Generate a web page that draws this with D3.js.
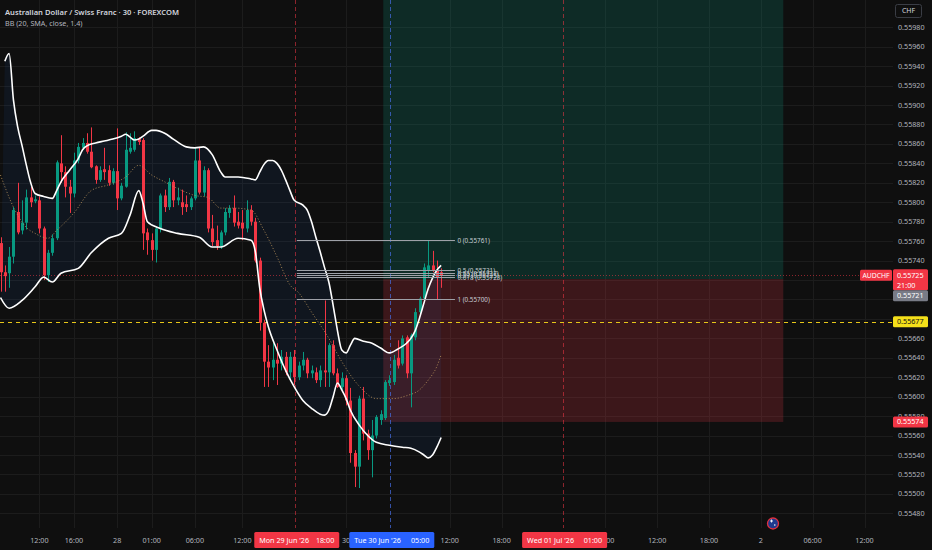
<!DOCTYPE html>
<html><head><meta charset="utf-8">
<script src="https://cdn.jsdelivr.net/npm/d3@7/dist/d3.min.js"></script>
<style>html,body{margin:0;padding:0;background:#0f0f0f;}svg{display:block;font-family:"Noto Sans",Roboto,sans-serif;}</style>
</head><body><svg id="c" width="932" height="550"></svg>
<script>
// ---------- DATA ----------
const opens = [.55758,.55728,.55727,.55744,.55790,.55771,.55779,.55805,.55801,.55802,
.55773,.55725,.55748,.55763,.55840,.55831,.55816,.55809,.55843,.55856,
.55861,.55852,.55837,.55823,.55834,.55833,.55820,.55832,.55804,.55816,
.55852,.55854,.55865,.55864,.55769,.55761,.55751,.55773,.55807,.55795,
.55821,.55802,.55800,.55798,.55795,.55804,.55843,.55810,.55833,.55773,
.55761,.55755,.55769,.55789,.55794,.55780,.55779,.55773,.55792,.55780,
.55740,.55676,.55636,.55630,.55638,.55634,.55641,.55625,.55641,.55620,
.55632,.55638,.55624,.55625,.55617,.55627,.55625,.55653,.55624,.55610,
.55619,.55596,.55542,.55528,.55598,.55562,.55545,.55560,.55576,.55578,
.55614,.55615,.55640,.55634,.55661,.55624,.55661,.55687,.55701,.55730,
.55735,.55730,.55728];
const highs = [.55764,.55735,.55754,.55795,.55820,.55802,.55813,.55816,.55807,.55806,
.55775,.55751,.55767,.55843,.55869,.55837,.55823,.55851,.55861,.55866,
.55871,.55877,.55838,.55837,.55856,.55838,.55835,.55876,.55820,.55872,
.55871,.55873,.55867,.55866,.55773,.55768,.55775,.55809,.55813,.55825,
.55823,.55815,.55813,.55807,.55806,.55856,.55857,.55837,.55835,.55787,
.55776,.55771,.55794,.55797,.55807,.55790,.55792,.55802,.55797,.55784,
.55743,.55679,.55653,.55655,.55655,.55648,.55646,.55646,.55648,.55636,
.55646,.55640,.55632,.55630,.55632,.55699,.55655,.55658,.55629,.55625,
.55622,.55609,.55545,.55601,.55610,.55566,.55576,.55581,.55586,.55617,
.55622,.55643,.55658,.55663,.55663,.55665,.55691,.55703,.55737,.55761,
.55750,.55740,.55732];
const lows = [.55708,.55708,.55712,.55737,.55767,.55767,.55772,.55795,.55799,.55768,
.55720,.55718,.55745,.55761,.55820,.55805,.55789,.55805,.55840,.55854,
.55850,.55835,.55819,.55821,.55823,.55817,.55818,.55792,.55802,.55815,
.55850,.55852,.55859,.55751,.55746,.55740,.55738,.55769,.55790,.55792,
.55795,.55797,.55787,.55790,.55792,.55802,.55808,.55806,.55769,.55755,
.55751,.55752,.55766,.55784,.55775,.55773,.55761,.55769,.55776,.55738,
.55668,.55610,.55610,.55617,.55612,.55627,.55622,.55617,.55612,.55617,
.55627,.55619,.55619,.55614,.55610,.55610,.55610,.55622,.55609,.55607,
.55591,.55532,.55507,.55506,.55555,.55535,.55517,.55557,.55571,.55576,
.55611,.55612,.55629,.55632,.55619,.55589,.55658,.55684,.55699,.55722,
.55728,.55700,.55712];
const closes = [.55728,.55724,.55744,.55792,.55769,.55779,.55805,.55800,.55803,.55773,
.55725,.55748,.55763,.55841,.55831,.55816,.55809,.55843,.55857,.55861,
.55852,.55836,.55823,.55833,.55831,.55820,.55832,.55804,.55817,.55854,
.55856,.55866,.55862,.55768,.55761,.55751,.55773,.55807,.55795,.55821,
.55802,.55805,.55795,.55795,.55804,.55843,.55810,.55833,.55773,.55759,
.55755,.55769,.55790,.55794,.55779,.55776,.55773,.55792,.55780,.55740,
.55676,.55636,.55630,.55638,.55634,.55641,.55625,.55641,.55620,.55632,
.55638,.55624,.55627,.55617,.55627,.55625,.55653,.55624,.55610,.55619,
.55596,.55542,.55528,.55598,.55562,.55545,.55560,.55579,.55582,.55615,
.55617,.55638,.55632,.55660,.55624,.55663,.55687,.55701,.55733,.55735,
.55730,.55723,.55725];

// Bollinger Bands : [bar index, price]
const bbUpper = [[1,.55945],[2,.55953],[3,.55905],[4,.55877],[5,.55858],[6,.55838],[7,.55820],[8,.55809],[10,.55806],[12,.55804],[13,.55812],[14,.55821],[16,.55833],[18,.55845],[19,.55854],[20,.55858],[22,.55861],[24,.55863],[26,.55865],[28,.55868],[29,.55870],[30,.55867],[31,.55864],[32,.55865],[33,.55868],[35,.55874],[36,.55874],[38,.55871],[40,.55865],[43,.55857],[45,.55856],[47,.55857],[49,.55849],[51,.55831],[52,.55826],[55,.55826],[58,.55824],[59,.55823],[60,.55831],[61,.55839],[62,.55843],[63,.55843],[64,.55840],[65,.55833],[66,.55823],[67,.55812],[68,.55802],[70,.55797],[71,.55792],[72,.55780],[73,.55764],[74,.55749],[75,.55733],[76,.55718],[77,.55694],[78,.55668],[79,.55648],[80,.55645],[81,.55653],[82,.55660],[84,.55657],[86,.55655],[88,.55650],[90,.55645],[92,.55649],[94,.55655],[95,.55660],[96,.55668],[97,.55681],[98,.55696],[99,.55711],[100,.55722],[101,.55730],[102,.55735]];
const bbBasis = [[0,.55828],[3,.55795],[6,.55774],[8,.55768],[11,.55763],[13,.55771],[17,.55789],[21,.55812],[25,.55818],[29,.55826],[32,.55838],[35,.55828],[38,.55821],[42,.55812],[45,.55807],[48,.55805],[51,.55794],[54,.55794],[58,.55792],[61,.55771],[64,.55744],[67,.55715],[69,.55707],[72,.55687],[76,.55660],[79,.55636],[83,.55611],[87,.55598],[91,.55598],[94,.55601],[97,.55607],[99,.55617],[101,.55631],[102,.55643]];
const bbLower = [[0,.55702],[2,.55691],[5,.55699],[8,.55713],[10,.55723],[12,.55718],[14,.55727],[18,.55732],[21,.55748],[25,.55763],[28,.55768],[30,.55787],[32,.55812],[33,.55799],[34,.55780],[37,.55773],[41,.55768],[46,.55764],[49,.55754],[51,.55754],[55,.55763],[58,.55761],[59,.55749],[60,.55712],[61,.55689],[62,.55672],[64,.55648],[66,.55627],[68,.55610],[70,.55596],[72,.55588],[74,.55582],[75,.55581],[76,.55586],[77,.55600],[78,.55614],[79,.55607],[80,.55598],[81,.55586],[83,.55571],[85,.55560],[87,.55553],[90,.55550],[93,.55548],[95,.55547],[97,.55543],[98,.55540],[99,.55537],[100,.55540],[101,.55548],[102,.55558]];

// time axis
const tickIdx  = [9,17,27,35,45,56,80,104,116,140,152,164,176,188,200];
const tickText = ["12:00","16:00","28","01:00","06:00","12:00","30","12:00","18:00","06:00","12:00","18:00","2","06:00","12:00"];
const markerIdx  = [68, 90, 130];
const markerDate = ["Mon 29 Jun '26","Tue 30 Jun '26","Wed 01 Jul '26"];
const markerTime = ["18:00","05:00","01:00"];
const markerKind = ["red","blue","red"];

// price axis
const priceTicks = d3.range(0, 26).map(k => +(0.55480 + k*0.0002).toFixed(5));
const lastPrice = 0.55725, countdown = "21:00", symbol = "AUDCHF";
const alertPrice = 0.55677;

// long/short position tool
const posStart = 88.6, posEnd = 181.2;
const entryPrice = 0.55721, stopPrice = 0.55574, targetPrice = 0.56040;

// fib retracement
const fibStart = 68.6, fibEnd = 105.2;
const fibHigh = 0.55761, fibLow = 0.55700;
const fibLevels = [0, 0.5, 0.55, 0.59, 0.618, 1];

// ---------- DRAW ----------
const W = 932, H = 550, plotR = 893, plotB = 528;
const RED = "#f23645", GREEN = "#089981";
const svg = d3.select("#c");
const x = d3.scaleLinear().domain([0, 200]).range([0.5, 864.5]);
const y = d3.scaleLinear().domain([0.55980, 0.55480]).range([27.3, 513.3]);

svg.append("rect").attr("width", W).attr("height", H).attr("fill", "#0f0f0f");
const plot = svg.append("g");
plot.append("clipPath").attr("id","pc").append("rect").attr("width", plotR).attr("height", plotB);
const g = plot.append("g").attr("clip-path","url(#pc)");

// grid
g.selectAll(".hg").data(priceTicks).join("line")
  .attr("x1",0).attr("x2",plotR).attr("y1",d=>Math.round(y(d))+0.5).attr("y2",d=>Math.round(y(d))+0.5)
  .attr("stroke","#1c1c1c").attr("stroke-width",1);
g.selectAll(".vg").data(tickIdx).join("line")
  .attr("y1",0).attr("y2",plotB).attr("x1",d=>Math.round(x(d))+0.5).attr("x2",d=>Math.round(x(d))+0.5)
  .attr("stroke","#1c1c1c").attr("stroke-width",1);

// position boxes
g.append("rect").attr("x",x(posStart)).attr("width",x(posEnd)-x(posStart))
  .attr("y",y(targetPrice)).attr("height",y(entryPrice)-y(targetPrice)).attr("fill","rgba(8,153,129,0.2)");
g.append("rect").attr("x",x(posStart)).attr("width",x(posEnd)-x(posStart))
  .attr("y",y(entryPrice)).attr("height",y(stopPrice)-y(entryPrice)).attr("fill","rgba(242,54,69,0.2)");

// BB fill
const bandLine = d3.line().x(d=>x(d[0])).y(d=>y(d[1])).curve(d3.curveMonotoneX);
const upPath = bandLine(bbUpper);
const loRev = bandLine(bbLower.slice().reverse());
g.append("path").attr("d", upPath + "L" + loRev.slice(1) + "Z").attr("fill","rgba(40,120,230,0.08)");

// vertical dashed marker lines
g.selectAll(".ml").data(markerIdx).join("line")
  .attr("x1",d=>Math.round(x(d))+1.5).attr("x2",d=>Math.round(x(d))+1.5).attr("y1",0).attr("y2",plotB)
  .attr("stroke",(d,i)=>markerKind[i]==="red"?"rgba(242,54,69,0.55)":"rgba(70,110,230,0.7)")
  .attr("stroke-dasharray","4,3").attr("stroke-width",1);

// last price dotted line & alert line
g.append("line").attr("x1",0).attr("x2",plotR).attr("y1",Math.round(y(lastPrice))+0.5).attr("y2",Math.round(y(lastPrice))+0.5)
  .attr("stroke","rgba(242,54,69,0.55)").attr("stroke-dasharray","1,2");
g.append("line").attr("x1",0).attr("x2",plotR).attr("y1",Math.round(y(alertPrice))+0.5).attr("y2",Math.round(y(alertPrice))+0.5)
  .attr("stroke","#e6c619").attr("stroke-dasharray","4,4");

// candles
const bars = opens.map((o,i)=>({i,o,h:highs[i],l:lows[i],c:closes[i]}));
const cg = g.append("g");
cg.selectAll(".wk").data(bars).join("line")
  .attr("x1",d=>Math.round(x(d.i))+0.5).attr("x2",d=>Math.round(x(d.i))+0.5)
  .attr("y1",d=>y(d.h)).attr("y2",d=>y(d.l))
  .attr("stroke",d=>d.c>=d.o?GREEN:RED).attr("stroke-width",1);
cg.selectAll(".bd").data(bars).join("rect")
  .attr("x",d=>Math.round(x(d.i))-1).attr("width",3)
  .attr("y",d=>y(Math.max(d.o,d.c))).attr("height",d=>Math.max(1,Math.abs(y(d.o)-y(d.c))))
  .attr("fill",d=>d.c>=d.o?GREEN:RED);

// BB lines
g.append("path").attr("d",upPath).attr("fill","none").attr("stroke","#ffffff").attr("stroke-width",1.6);
g.append("path").attr("d",bandLine(bbLower)).attr("fill","none").attr("stroke","#ffffff").attr("stroke-width",1.6);
g.append("path").attr("d",bandLine(bbBasis)).attr("fill","none").attr("stroke","#b8925a").attr("stroke-width",0.9).attr("stroke-dasharray","1,2");

// fib retracement
const fibG = g.append("g");
fibLevels.forEach(L=>{
  const p = fibHigh - L*(fibHigh-fibLow);
  const yy = Math.round(y(p))+0.5;
  fibG.append("line").attr("x1",x(fibStart)).attr("x2",x(fibEnd)).attr("y1",yy).attr("y2",yy)
    .attr("stroke","#9ea1a8").attr("stroke-width",1);
  fibG.append("text").attr("x",x(fibEnd)+2.5).attr("y",yy).attr("dy","0.35em")
    .attr("font-size",6.3).attr("fill","#c9ccd3").text(L+" ("+p.toFixed(5)+")");
});

// ---------- AXES / LABELS ----------
const yLast = y(lastPrice), yA = y(alertPrice), yS = y(stopPrice);
const covered = [[yLast-6, yLast+26], [yA-5.5, yA+5.5]];
svg.selectAll(".pl").data(priceTicks.filter(p=>!covered.some(r=>y(p)>=r[0]-2 && y(p)<=r[1]+2))).join("text")
  .attr("x",898).attr("y",d=>y(d)).attr("dy","0.35em").attr("font-size",7.2).attr("fill","#b2b5be")
  .text(d=>d.toFixed(5));

// time axis labels
svg.selectAll(".tl").data(tickIdx).join("text")
  .attr("x",d=>x(d)).attr("y",543).attr("text-anchor","middle").attr("font-size",7.2).attr("fill","#b2b5be")
  .text((d,i)=>tickText[i]);

// marker date boxes
markerIdx.forEach((m,i)=>{
  const cx = x(m)+2.5, w = 85;
  svg.append("rect").attr("x",cx-w/2).attr("y",532).attr("width",w).attr("height",16).attr("rx",1.5)
    .attr("fill",markerKind[i]==="red"?RED:"#2962ff");
  svg.append("text").attr("x",cx-w/2+5).attr("y",540).attr("dy","0.35em").attr("font-size",7.2).attr("fill","#fff").text(markerDate[i]);
  svg.append("text").attr("x",cx+w/2-5).attr("y",540).attr("dy","0.35em").attr("text-anchor","end").attr("font-size",7.2).attr("fill","#fff").text(markerTime[i]);
});

// right-side price labels
function pBox(yc, h, fill){ svg.append("rect").attr("x",893).attr("y",yc).attr("width",35).attr("height",h).attr("rx",1.5).attr("fill",fill); }
svg.append("rect").attr("x",860).attr("y",yLast-5.5).attr("width",32).attr("height",11).attr("rx",1.5).attr("fill",RED);
svg.append("text").attr("x",876).attr("y",yLast).attr("dy","0.35em").attr("text-anchor","middle").attr("font-size",6.8).attr("fill","#fff").text(symbol);
pBox(yLast-6, 21, RED);
svg.append("text").attr("x",897).attr("y",yLast).attr("dy","0.35em").attr("font-size",7.2).attr("fill","#fff").text(lastPrice.toFixed(5));
svg.append("text").attr("x",897).attr("y",yLast+10).attr("dy","0.35em").attr("font-size",7.2).attr("fill","#fff").text(countdown);
pBox(yLast+15, 11, "#787b86");
svg.append("text").attr("x",897).attr("y",yLast+20.5).attr("dy","0.35em").attr("font-size",7.2).attr("fill","#fff").text(entryPrice.toFixed(5));
pBox(yA-5.5, 11, "#f5e01a");
svg.append("text").attr("x",897).attr("y",yA).attr("dy","0.35em").attr("font-size",7.2).attr("fill","#131313").text(alertPrice.toFixed(5));
pBox(yS-5.5, 11, RED);
svg.append("text").attr("x",897).attr("y",yS).attr("dy","0.35em").attr("font-size",7.2).attr("fill","#fff").text(stopPrice.toFixed(5));

// currency box
svg.append("rect").attr("x",895.5).attr("y",4.5).attr("width",26).attr("height",13).attr("rx",2).attr("fill","#0f0f0f").attr("stroke","#3a3d45");
svg.append("text").attr("x",908.5).attr("y",11).attr("dy","0.35em").attr("text-anchor","middle").attr("font-size",7).attr("fill","#d1d4dc").text("CHF");

// titles
svg.append("text").attr("x",5).attr("y",14.5).attr("font-size",7.6).attr("font-weight",600).attr("fill","#d1d4dc")
  .text("Australian Dollar / Swiss Franc · 30 · FOREXCOM");
svg.append("text").attr("x",5).attr("y",25.5).attr("font-size",7.2).attr("fill","#b2b5be").text("BB (20, SMA, close, 1.4)");

// event flag icon
const fl = svg.append("g").attr("transform","translate(773,523.5)");
fl.append("circle").attr("r",5.5).attr("fill","#1f3b8f").attr("stroke","#e0303f").attr("stroke-width",1.3);
fl.append("path").attr("d","M-3,-2.5L0,-2.5M-1.5,-4L-1.5,-1").attr("stroke","#fff").attr("stroke-width",0.9);
fl.append("circle").attr("cx",1.8).attr("cy",1.5).attr("r",0.8).attr("fill","#fff");
</script></body></html>
